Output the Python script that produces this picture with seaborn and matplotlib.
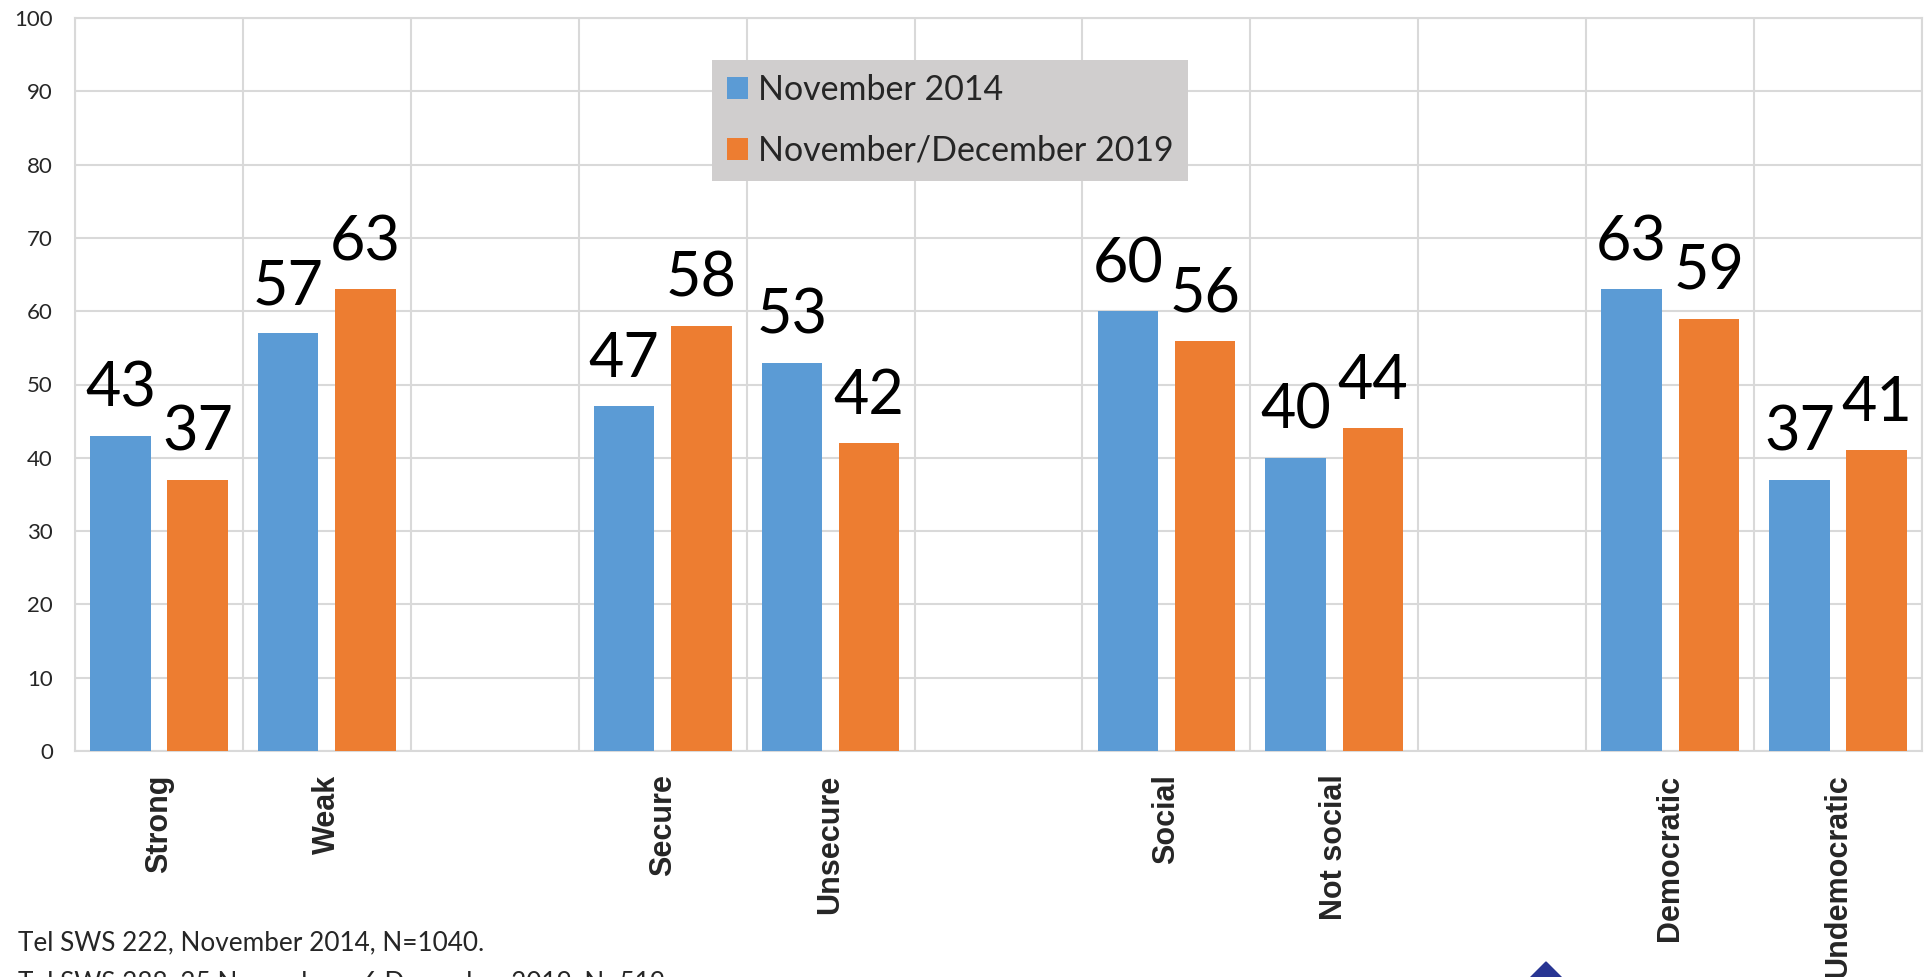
import matplotlib
matplotlib.use("Agg")
import matplotlib.pyplot as plt
import matplotlib.patches as mpatches
import seaborn as sns
import pandas as pd

# category order, including the empty slots between the groups
order = ["Strong", "Weak", "gap1", "Secure", "Unsecure", "gap2",
         "Social", "Not social", "gap3", "Democratic", "Undemocratic"]
tick_labels = ["Strong", "Weak", "", "Secure", "Unsecure", "",
               "Social", "Not social", "", "Democratic", "Undemocratic"]

categories = ["Strong", "Weak", "Secure", "Unsecure",
              "Social", "Not social", "Democratic", "Undemocratic"]
nov_2014 = [43, 57, 47, 53, 60, 40, 63, 37]
nov_dec_2019 = [37, 63, 58, 42, 56, 44, 59, 41]
series = ["November 2014", "November/December 2019"]

df = pd.DataFrame({
    "category": categories * 2,
    "value": nov_2014 + nov_dec_2019,
    "period": [series[0]] * len(categories) + [series[1]] * len(categories),
})

sns.set_theme(style="white")
plt.rcParams["font.family"] = ["Lato", "DejaVu Sans"]

fig = plt.figure(figsize=(19.28, 9.77), dpi=100)
ax = fig.add_axes([75 / 1928, 1 - 751 / 977, 1847 / 1928, 733 / 977])

sns.barplot(data=df, x="category", y="value", hue="period", order=order,
            hue_order=series, palette=["#5B9BD5", "#ED7D31"], saturation=1,
            width=0.92, gap=0.217, linewidth=0, ax=ax, zorder=3)

for cont in ax.containers:
    ax.bar_label(cont, fmt="%d", fontsize=44, padding=13, color="black")

grid_c = "#D9D9D9"
ax.set_ylim(0, 100)
ax.set_yticks(range(0, 101, 10))
ax.set_xlim(-0.5, len(order) - 0.5)
ax.set_xticks(range(len(order)))
ax.set_xticklabels(tick_labels, rotation=90, fontsize=22, fontweight="bold",
                   family="Liberation Sans", va="top")
ax.set_xticks([i + 0.5 for i in range(-1, len(order))], minor=True)
ax.tick_params(axis="x", which="both", length=0, pad=17)
ax.tick_params(axis="y", length=0, pad=16, labelsize=16)
ax.grid(axis="y", which="major", color=grid_c, lw=1.5, zorder=0)
ax.grid(axis="x", which="minor", color=grid_c, lw=1.5, zorder=0)
ax.grid(axis="x", which="major", visible=False)
ax.set_axisbelow(True)
for s in ax.spines.values():
    s.set_color(grid_c)
    s.set_linewidth(1.5)
ax.set_xlabel("")
ax.set_ylabel("")

handles, labels = ax.get_legend_handles_labels()
leg = ax.legend(handles, labels, loc="upper left", bbox_to_anchor=(0.345, 0.943),
                borderaxespad=0, fontsize=24.5, frameon=True, fancybox=False,
                facecolor="#D0CECE", edgecolor="none", framealpha=1,
                handlelength=0.62, handleheight=0.62, handletextpad=0.3,
                labelspacing=0.85, borderpad=0.42)

fig.text(18 / 1928, 1 - 950 / 977, "Tel SWS 222, November 2014, N=1040.",
         fontsize=18.8, va="baseline", ha="left")
fig.text(18 / 1928, 1 - 990 / 977, "Tel SWS 288, 25 November - 6 December 2019, N=519.",
         fontsize=18.8, va="baseline", ha="left")

# tip of the logo peeking in at the bottom
fig.patches.append(mpatches.Polygon(
    [(1546 / 1928, 1 - 962 / 977), (1524 / 1928, 1 - 984 / 977), (1568 / 1928, 1 - 984 / 977)],
    closed=True, transform=fig.transFigure, color="#283593", zorder=5))

fig.savefig("out.png", dpi=100)
